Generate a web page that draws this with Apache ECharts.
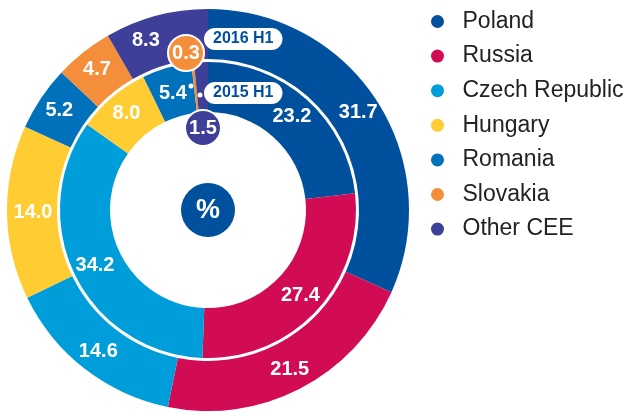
<!DOCTYPE html>
<html>
<head>
<meta charset="utf-8">
<script src="https://cdn.jsdelivr.net/npm/echarts@6/dist/echarts.min.js"></script>
<style>
  html, body { margin: 0; padding: 0; background: #fff; }
  #main { width: 630px; height: 412px; }
</style>
</head>
<body>
<div id="main"></div>
<script>
// data
var countries = ['Poland', 'Russia', 'Czech Republic', 'Hungary', 'Romania', 'Slovakia', 'Other CEE'];
var colors = ['#00509E', '#D20B55', '#009DDB', '#FFCC33', '#0071BA', '#F48E3A', '#3D3F98'];
var values2016 = [31.7, 21.5, 14.6, 14.0, 5.2, 4.7, 8.3];
var values2015 = [23.2, 27.4, 34.2, 8.0, 5.4, 0.3, 1.5];
var ringNames = ['2016 H1', '2015 H1'];

var FONT = '"Liberation Sans", Arial, sans-serif';
var cx = 208, cy = 210;

var chart = echarts.init(document.getElementById('main'));

function bubble(color) {
  return {
    position: 'outside',
    backgroundColor: color,
    borderColor: '#fff',
    borderWidth: 2,
    borderRadius: 18,
    width: 34,
    height: 34,
    lineHeight: 34,
    align: 'center',
    verticalAlign: 'middle'
  };
}

function ringData(vals, small) {
  return vals.map(function (v, i) {
    var item = { name: countries[i], value: v, itemStyle: { color: colors[i] } };
    if (small && small[i]) {
      item.label = bubble(colors[i]);
      item.labelLine = { show: true, lineStyle: { color: '#fff', width: 1.5 } };
    }
    return item;
  });
}

var baseLabel = {
  show: true,
  position: 'inside',
  color: '#fff',
  fontFamily: FONT,
  fontWeight: 'bold',
  fontSize: 20,
  formatter: function (p) { return p.value.toFixed(1); }
};

var option = {
  animation: false,
  legend: {
    orient: 'vertical',
    left: 426,
    top: 5,
    itemWidth: 40,
    itemHeight: 13,
    itemGap: 11.6,
    icon: 'circle',
    textStyle: { fontFamily: FONT, fontSize: 23, color: '#222', lineHeight: 20 },
    data: countries
  },
  series: [
    {
      name: ringNames[0],
      type: 'pie',
      center: [cx, cy],
      radius: [151, 201],
      startAngle: 90,
      avoidLabelOverlap: false,
      label: baseLabel,
      labelLine: { show: false },
      labelLayout: function (p) {
        if (p.dataIndex === 6) return { dx: -16, dy: 3 };
        if (p.dataIndex === 3) return { dx: 4 };
      },
      data: ringData(values2016)
    },
    {
      name: ringNames[1],
      type: 'pie',
      center: [cx, cy],
      radius: [98, 148],
      startAngle: 90,
      avoidLabelOverlap: false,
      label: baseLabel,
      labelLine: { show: false },
      labelLayout: function (p) {
        if (p.dataIndex === 4) return { dy: 4 };
        if (p.dataIndex === 5) {
          return { x: 186, y: 53, align: 'center', verticalAlign: 'middle',
            labelLinePoints: [[191, 86], [189, 75], [186, 53]] };
        }
        if (p.dataIndex === 6) {
          return { x: 203, y: 128, align: 'center', verticalAlign: 'middle',
            labelLinePoints: [[200, 95], [201, 105], [203, 128]] };
        }
      },
      data: ringData(values2015, [0, 0, 0, 0, 0, 1, 1])
    }
  ],
  graphic: [
    {
      type: 'circle', z: 100,
      shape: { cx: cx, cy: cy, r: 27 },
      style: { fill: colors[0] }
    },
    {
      type: 'text', z: 101, x: cx, y: cy + 1,
      style: { text: '%', fill: '#fff', font: 'bold 27px ' + FONT, align: 'center', verticalAlign: 'middle' }
    },
    {
      type: 'text', z: 100, x: 204, y: 28,
      style: { text: ringNames[0], fill: colors[0], font: 'bold 16px ' + FONT,
        backgroundColor: '#fff', borderRadius: 11, padding: [2, 9, 2, 9], lineHeight: 18 }
    },
    {
      type: 'text', z: 100, x: 204, y: 82,
      style: { text: ringNames[1], fill: colors[0], font: 'bold 16px ' + FONT,
        backgroundColor: '#fff', borderRadius: 11, padding: [2, 9, 2, 9], lineHeight: 18 }
    },
    { type: 'circle', z: 100, shape: { cx: 191, cy: 86, r: 2.5 }, style: { fill: '#fff' } },
    { type: 'circle', z: 100, shape: { cx: 200, cy: 95, r: 2.5 }, style: { fill: '#fff' } }
  ]
};

chart.setOption(option);
</script>
</body>
</html>
